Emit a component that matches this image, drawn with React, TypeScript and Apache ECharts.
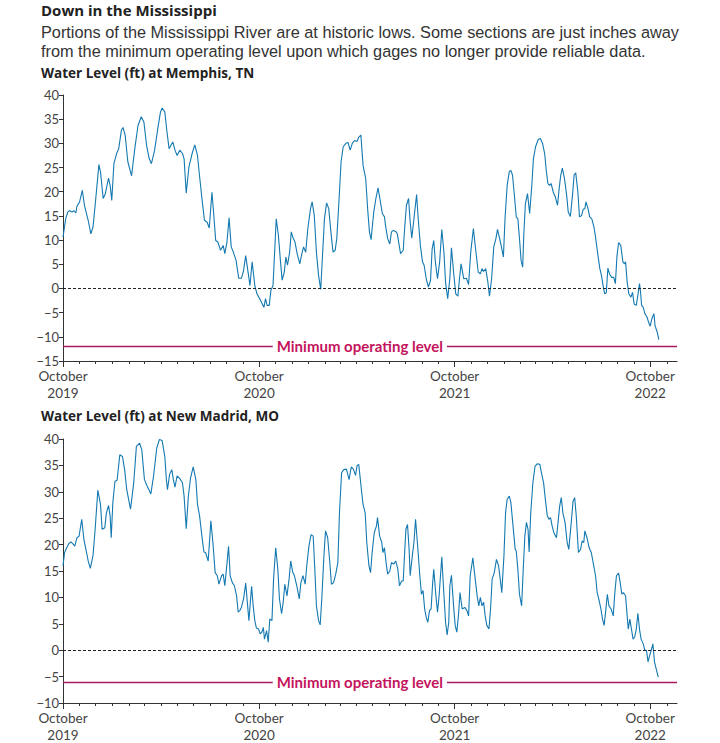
import * as echarts from "echarts";
import { useEffect, useRef } from "react";

// x values are days counted from 1 October 2019
const startDate = Date.UTC(2019, 9, 1);
const axisEnd = Date.UTC(2022, 10, 20);
const dayMs = 86400000;

const yearLabels = ["2019", "2020", "2021", "2022"];

const memphisDays = [
  0, 5, 9, 12, 17, 20, 24, 26, 31, 36, 40, 47, 52, 56, 60, 67, 70, 75, 79, 85, 88, 91, 95, 100, 104, 109, 112, 116,
  121, 128, 134, 140, 146, 151, 156, 161, 165, 171, 177, 182, 185, 190, 194, 198, 202, 205, 209, 213, 218, 223, 226,
  230, 235, 241, 246, 251, 255, 260, 264, 269, 273, 278, 281, 285, 289, 294, 299, 302, 306, 310, 314, 318, 323, 328,
  333, 337, 341, 345, 349, 353, 358, 362, 367, 372, 375, 378, 381, 385, 388, 392, 395, 398, 402, 406, 409, 413, 416,
  419, 423, 426, 429, 433, 437, 442, 445, 449, 453, 457, 462, 465, 469, 473, 477, 481, 484, 488, 492, 496, 500, 504,
  508, 511, 515, 519, 523, 528, 532, 536, 540, 544, 549, 552, 556, 560, 565, 569, 572, 575, 580, 584, 588, 592, 596,
  600, 602, 606, 610, 613, 617, 621, 624, 627, 630, 635, 638, 641, 645, 648, 651, 655, 660, 663, 667, 671, 674, 678,
  682, 686, 689, 692, 695, 699, 703, 707, 711, 714, 718, 722, 725, 729, 733, 737, 740, 743, 748, 753, 757, 761, 766,
  770, 775, 779, 782, 785, 789, 793, 796, 800, 804, 808, 811, 815, 819, 822, 825, 829, 833, 836, 839, 843, 846, 849,
  852, 855, 858, 860, 863, 867, 871, 875, 878, 882, 887, 891, 895, 899, 902, 905, 908, 911, 915, 919, 923, 926, 929,
  932, 936, 940, 943, 947, 951, 954, 957, 961, 964, 968, 971, 974, 976, 980, 983, 987, 991, 994, 998, 1002, 1005,
  1008, 1011, 1014, 1017, 1020, 1024, 1028, 1031, 1034, 1037, 1041, 1045, 1048, 1050, 1053, 1056, 1060, 1063, 1066,
  1070, 1073, 1076, 1078, 1080, 1083, 1086, 1090, 1093, 1096, 1099, 1103, 1105, 1109, 1112
];
const memphisLevels = [
  10.6, 14.4, 15.8, 16.1, 15.8, 16.1, 15.6, 17.0, 17.9, 20.3, 17.2, 14.1, 11.3, 12.7, 17.2, 25.6, 24.1, 18.6, 19.6,
  22.8, 21.3, 18.2, 25.8, 27.9, 28.9, 32.7, 33.3, 31.7, 26.2, 23.3, 28.9, 33.7, 35.5, 34.4, 29.6, 26.8, 25.8, 28.6,
  33.1, 36.5, 37.3, 36.5, 32.4, 28.9, 29.7, 30.3, 28.6, 27.5, 28.6, 27.9, 26.8, 19.7, 25.1, 27.9, 29.7, 27.5, 23.1,
  17.9, 14.1, 13.7, 12.5, 19.9, 15.8, 9.9, 9.6, 7.9, 8.9, 7.2, 9.6, 14.6, 8.6, 7.5, 5.8, 2.1, 2.1, 3.7, 6.8, 3.7,
  0.6, 5.5, 0.6, -1.1, -2.1, -3.2, -3.9, -2.1, -3.5, -3.5, -0.4, 0.6, 7.5, 14.4, 11.0, 5.5, 1.7, 3.4, 6.5, 4.8, 7.5,
  11.7, 10.6, 9.6, 7.2, 5.1, 6.8, 8.6, 7.5, 12.4, 16.5, 17.9, 15.1, 7.5, 2.7, -0.2, 6.1, 14.4, 17.7, 16.5, 11.7,
  7.5, 7.9, 10.3, 17.9, 26.2, 29.3, 30.0, 30.2, 28.6, 30.0, 30.6, 30.4, 31.3, 31.7, 25.5, 22.7, 15.8, 11.7, 10.1,
  15.8, 18.6, 20.8, 18.2, 15.5, 14.8, 13.0, 10.3, 9.2, 11.7, 12.0, 11.8, 11.3, 9.2, 7.2, 7.9, 13.0, 17.2, 18.6,
  13.7, 10.4, 14.4, 19.4, 14.4, 8.9, 5.5, 4.8, 2.0, 0.3, 1.7, 8.2, 9.9, 5.5, 2.0, 5.5, 12.2, 7.5, 1.3, -2.1, 2.0,
  8.4, 3.4, -1.1, -1.6, 2.0, 5.1, 2.0, 2.1, 0.8, 7.5, 12.4, 8.2, 3.4, 3.0, 4.1, 3.5, 4.1, 1.3, -1.6, 2.0, 8.6,
  10.3, 12.2, 10.3, 8.2, 6.5, 14.4, 21.3, 24.2, 24.4, 23.4, 18.6, 14.8, 14.4, 10.3, 5.8, 4.4, 11.0, 17.5, 19.6,
  15.5, 21.3, 26.8, 29.3, 30.8, 31.0, 30.0, 27.9, 24.4, 21.7, 21.3, 21.7, 19.9, 18.9, 17.2, 20.6, 23.4, 24.9, 22.7,
  19.3, 15.8, 14.9, 19.3, 23.5, 23.9, 19.9, 14.8, 15.1, 16.4, 16.5, 17.9, 16.5, 14.8, 14.4, 12.7, 10.6, 7.2, 4.1,
  2.7, 0.6, -1.1, -0.9, 4.2, 3.0, 2.3, 2.3, 1.0, 6.8, 9.5, 8.9, 5.5, 5.1, 5.5, 1.3, -1.1, -1.8, -0.8, -3.2, -3.5,
  -1.4, 1.0, -0.8, -3.5, -3.9, -5.2, -5.9, -7.0, -7.8, -6.3, -5.2, -7.7, -9.0, -10.6
];

const madridDays = [
  0, 3, 7, 11, 15, 19, 22, 26, 30, 35, 39, 44, 47, 51, 56, 60, 65, 70, 73, 78, 81, 85, 88, 90, 93, 97, 101, 106, 111,
  115, 119, 126, 132, 137, 143, 147, 152, 157, 164, 169, 175, 180, 185, 190, 193, 195, 199, 203, 206, 209, 213, 218,
  223, 226, 230, 234, 238, 243, 248, 251, 255, 260, 263, 266, 271, 276, 280, 284, 288, 291, 296, 299, 302, 305, 309,
  312, 316, 320, 324, 327, 330, 333, 337, 341, 344, 347, 352, 355, 358, 361, 365, 368, 371, 374, 376, 380, 383, 386,
  390, 393, 397, 401, 404, 408, 411, 414, 418, 422, 425, 429, 432, 437, 441, 444, 448, 452, 455, 459, 463, 467, 470,
  473, 477, 480, 483, 487, 490, 494, 498, 501, 505, 509, 513, 516, 520, 524, 529, 534, 538, 542, 546, 549, 552, 557,
  560, 564, 567, 571, 574, 577, 581, 585, 587, 591, 595, 597, 600, 603, 606, 610, 613, 617, 621, 625, 628, 632, 635,
  638, 640, 643, 646, 648, 652, 655, 658, 662, 666, 669, 672, 675, 678, 681, 684, 687, 690, 692, 696, 699, 702, 707,
  710, 714, 717, 720, 722, 725, 729, 732, 735, 738, 741, 745, 750, 754, 757, 760, 765, 768, 773, 776, 779, 782, 785,
  788, 791, 795, 798, 801, 805, 809, 813, 816, 819, 823, 826, 829, 833, 836, 840, 844, 846, 849, 852, 856, 859, 862,
  865, 868, 870, 873, 877, 881, 885, 890, 893, 897, 901, 904, 907, 910, 913, 916, 921, 924, 927, 930, 933, 937, 941,
  944, 948, 952, 955, 958, 962, 966, 969, 972, 974, 978, 982, 986, 990, 994, 997, 1000, 1004, 1007, 1010, 1013, 1016,
  1019, 1023, 1027, 1030, 1033, 1037, 1040, 1043, 1046, 1050, 1053, 1055, 1058, 1061, 1064, 1067, 1070, 1073, 1076,
  1079, 1083, 1086, 1089, 1092, 1095, 1098, 1101, 1104, 1107, 1111
];
const madridLevels = [
  16.0, 18.5, 19.4, 20.2, 20.5, 20.1, 19.7, 21.3, 21.6, 24.8, 21.0, 18.5, 16.9, 15.5, 17.9, 22.9, 30.3, 27.6, 22.9,
  23.2, 26.0, 27.4, 25.4, 21.3, 27.9, 32.0, 32.2, 37.0, 36.7, 34.2, 30.4, 26.7, 31.7, 38.6, 39.2, 38.0, 32.3, 31.1,
  29.6, 33.0, 38.3, 39.9, 39.7, 36.7, 32.3, 30.4, 33.3, 34.2, 32.3, 30.9, 33.0, 32.5, 31.7, 29.2, 23.0, 29.2, 32.6,
  34.7, 32.3, 27.6, 25.4, 21.0, 18.6, 18.5, 16.9, 24.5, 20.1, 14.7, 14.1, 12.5, 14.1, 14.4, 12.2, 15.3, 19.7, 14.1,
  12.8, 12.2, 10.3, 7.2, 7.5, 8.1, 9.7, 12.7, 9.1, 5.6, 12.1, 8.4, 5.6, 4.2, 4.0, 3.1, 3.4, 4.3, 2.1, 3.7, 1.5, 5.9,
  5.6, 13.5, 19.4, 15.3, 9.7, 6.9, 9.1, 12.5, 10.3, 13.5, 16.9, 14.7, 14.1, 11.9, 9.7, 12.8, 14.1, 12.5, 16.0, 19.7,
  21.9, 21.6, 15.3, 8.4, 5.6, 4.8, 9.7, 17.9, 22.6, 21.3, 16.6, 12.5, 12.8, 14.4, 16.6, 26.0, 33.6, 34.2, 34.3,
  32.3, 34.7, 34.3, 33.1, 35.0, 35.2, 30.4, 27.6, 26.0, 20.4, 16.0, 14.7, 18.5, 22.3, 23.5, 25.1, 21.6, 20.4, 18.5,
  19.4, 16.6, 14.4, 15.0, 16.6, 16.3, 16.9, 15.3, 12.2, 13.1, 13.1, 19.1, 22.9, 23.8, 19.1, 14.1, 17.9, 20.4, 24.8,
  19.7, 14.1, 10.6, 11.3, 7.8, 6.2, 5.3, 7.5, 7.8, 12.8, 15.3, 10.3, 7.2, 10.3, 17.7, 12.2, 5.3, 2.9, 5.3, 12.2,
  14.2, 8.4, 4.7, 3.4, 6.5, 10.9, 7.8, 8.1, 7.5, 6.5, 14.1, 17.5, 14.7, 10.3, 8.4, 10.0, 8.4, 9.1, 6.5, 4.7, 4.0,
  7.8, 13.5, 14.7, 17.2, 16.0, 13.5, 10.9, 17.9, 26.0, 28.6, 29.2, 27.9, 23.5, 19.1, 18.8, 15.3, 10.6, 8.4, 15.3,
  21.6, 24.2, 22.9, 18.6, 26.0, 31.7, 34.8, 35.3, 35.2, 33.6, 31.7, 27.9, 25.4, 24.8, 25.1, 23.5, 22.3, 21.3, 24.2,
  27.3, 28.9, 26.0, 24.2, 20.4, 19.1, 23.5, 28.2, 28.9, 25.4, 18.5, 19.1, 20.7, 20.4, 22.6, 21.3, 19.4, 18.5, 16.3,
  14.1, 10.9, 9.7, 7.8, 5.9, 4.7, 7.5, 10.6, 8.4, 7.8, 6.5, 10.9, 14.1, 14.6, 12.8, 10.6, 10.9, 10.3, 6.5, 4.0, 5.9,
  4.0, 2.1, 2.5, 4.0, 7.0, 4.0, 2.1, 1.2, 0.0, 0.0, -2.2, -1.0, 0.0, 1.2, -2.2, -3.5, -5.1
];

const memphisMinLevel = -12;
const madridMinLevel = -6;
const minLevelLabel = "Minimum operating level";
const labelDay = 554;

const lineBlue = "#1479b1";
const minColor = "#a8195f";
const minTextColor = "#c4145c";
const axisColor = "#333";
const font = "Lato";
const headFont = "'Open Sans'";
const bodyFont = "'Liberation Sans'";

const toDay = (t: number) => Math.round((t - startDate) / dayMs);
const axisMaxDay = toDay(axisEnd);

// first day of every month inside the axis range
function monthStarts() {
  const out: number[] = [];
  for (let y = 2019; y <= 2022; y++) {
    for (let m = 0; m < 12; m++) {
      const t = Date.UTC(y, m, 1);
      if (t >= startDate && t <= axisEnd) out.push(toDay(t));
    }
  }
  return out;
}

const yearTicks = yearLabels.map((y) => toDay(Date.UTC(Number(y), 9, 1)));

function xAxesFor(gridIndex: number) {
  const base = {
    type: "value",
    gridIndex,
    position: "bottom",
    min: 0,
    max: axisMaxDay,
    splitLine: { show: false },
    axisPointer: { show: false }
  };
  return [
    {
      ...base,
      axisLine: { show: true, onZero: false, lineStyle: { color: axisColor, width: 1 } },
      axisTick: { show: true, length: 3, lineStyle: { color: axisColor }, customValues: monthStarts() },
      axisLabel: { show: false }
    },
    {
      ...base,
      axisLine: { show: false, onZero: false },
      axisTick: { show: true, length: 6, lineStyle: { color: axisColor }, customValues: yearTicks },
      axisLabel: {
        show: true,
        customValues: yearTicks,
        color: "#444",
        fontFamily: font,
        fontSize: 13.5,
        lineHeight: 16.5,
        margin: 7,
        formatter: (v: number) => {
          const i = yearTicks.indexOf(Math.round(v));
          return i >= 0 ? "October\n" + yearLabels[i] : "";
        }
      }
    }
  ];
}

function yAxisFor(gridIndex: number, min: number) {
  return {
    type: "value",
    gridIndex,
    min,
    max: 40,
    interval: 5,
    axisLine: { show: true, onZero: false, lineStyle: { color: axisColor, width: 1 } },
    axisTick: { show: true, length: 4, lineStyle: { color: axisColor } },
    splitLine: { show: false },
    axisLabel: {
      color: "#444",
      fontFamily: font,
      fontSize: 13,
      lineHeight: 11,
      margin: 4,
      formatter: (v: number) => (v < 0 ? "\u2212" + Math.abs(v) : String(v))
    }
  };
}

function levelSeries(days: number[], levels: number[], minLevel: number, xIdx: number, yIdx: number) {
  return {
    type: "line",
    xAxisIndex: xIdx,
    yAxisIndex: yIdx,
    data: days.map((d, i) => [d, levels[i]]),
    showSymbol: false,
    symbol: "none",
    silent: true,
    lineStyle: { color: lineBlue, width: 1.1 },
    markLine: {
      silent: true,
      symbol: ["none", "none"],
      label: { show: false },
      data: [
        { yAxis: 0, lineStyle: { color: "#222", width: 1, type: [3, 2] } },
        { yAxis: minLevel, lineStyle: { color: minColor, width: 1.3, type: "solid" } }
      ]
    },
    markPoint: {
      silent: true,
      z: 10,
      symbol: "rect",
      symbolSize: [1, 1],
      itemStyle: { color: "rgba(0,0,0,0)" },
      label: {
        show: true,
        position: "inside",
        formatter: minLevelLabel,
        color: minTextColor,
        fontFamily: font,
        fontWeight: "bold",
        fontSize: 15,
        backgroundColor: "#fff",
        padding: [2, 4]
      },
      data: [{ coord: [labelDay, minLevel] }]
    }
  };
}

export default function App() {
  const chartRef = useRef<HTMLDivElement>(null);

  useEffect(() => {
    if (!chartRef.current) return;

    const chart = echarts.init(chartRef.current, null, { renderer: "svg" });

    chart.setOption({
      animation: false,
      textStyle: { fontFamily: font },
      grid: [
        { left: 63, top: 95, width: 614, height: 266 },
        { left: 63, top: 439, width: 614, height: 265 }
      ],
      xAxis: [...xAxesFor(0), ...xAxesFor(1)],
      yAxis: [yAxisFor(0, -15), yAxisFor(1, -10)],
      graphic: [
        {
          type: "text",
          left: 41,
          top: 2,
          style: { text: "Down in the Mississippi", fill: "#222", font: `bold 15px ${headFont}` }
        },
        {
          type: "text",
          left: 41,
          top: 22,
          style: {
            text:
              "Portions of the Mississippi River are at historic lows. Some sections are just inches away\nfrom the minimum operating level upon which gages no longer provide reliable data.",
            fill: "#333",
            font: `16.3px ${bodyFont}`,
            lineHeight: 19
          }
        },
        {
          type: "text",
          left: 41,
          top: 66,
          style: { text: "Water Level (ft) at Memphis, TN", fill: "#222", font: `bold 13.5px ${headFont}` }
        },
        {
          type: "text",
          left: 41,
          top: 409,
          style: { text: "Water Level (ft) at New Madrid, MO", fill: "#222", font: `bold 13.5px ${headFont}` }
        }
      ],
      series: [
        levelSeries(memphisDays, memphisLevels, memphisMinLevel, 0, 0),
        levelSeries(madridDays, madridLevels, madridMinLevel, 2, 1)
      ]
    });

    return () => {
      chart.dispose();
    };
  }, []);

  return (
    <div
      ref={chartRef}
      style={{ position: "absolute", left: 0, top: 0, width: 720, height: 743, background: "#fff" }}
    />
  );
}
